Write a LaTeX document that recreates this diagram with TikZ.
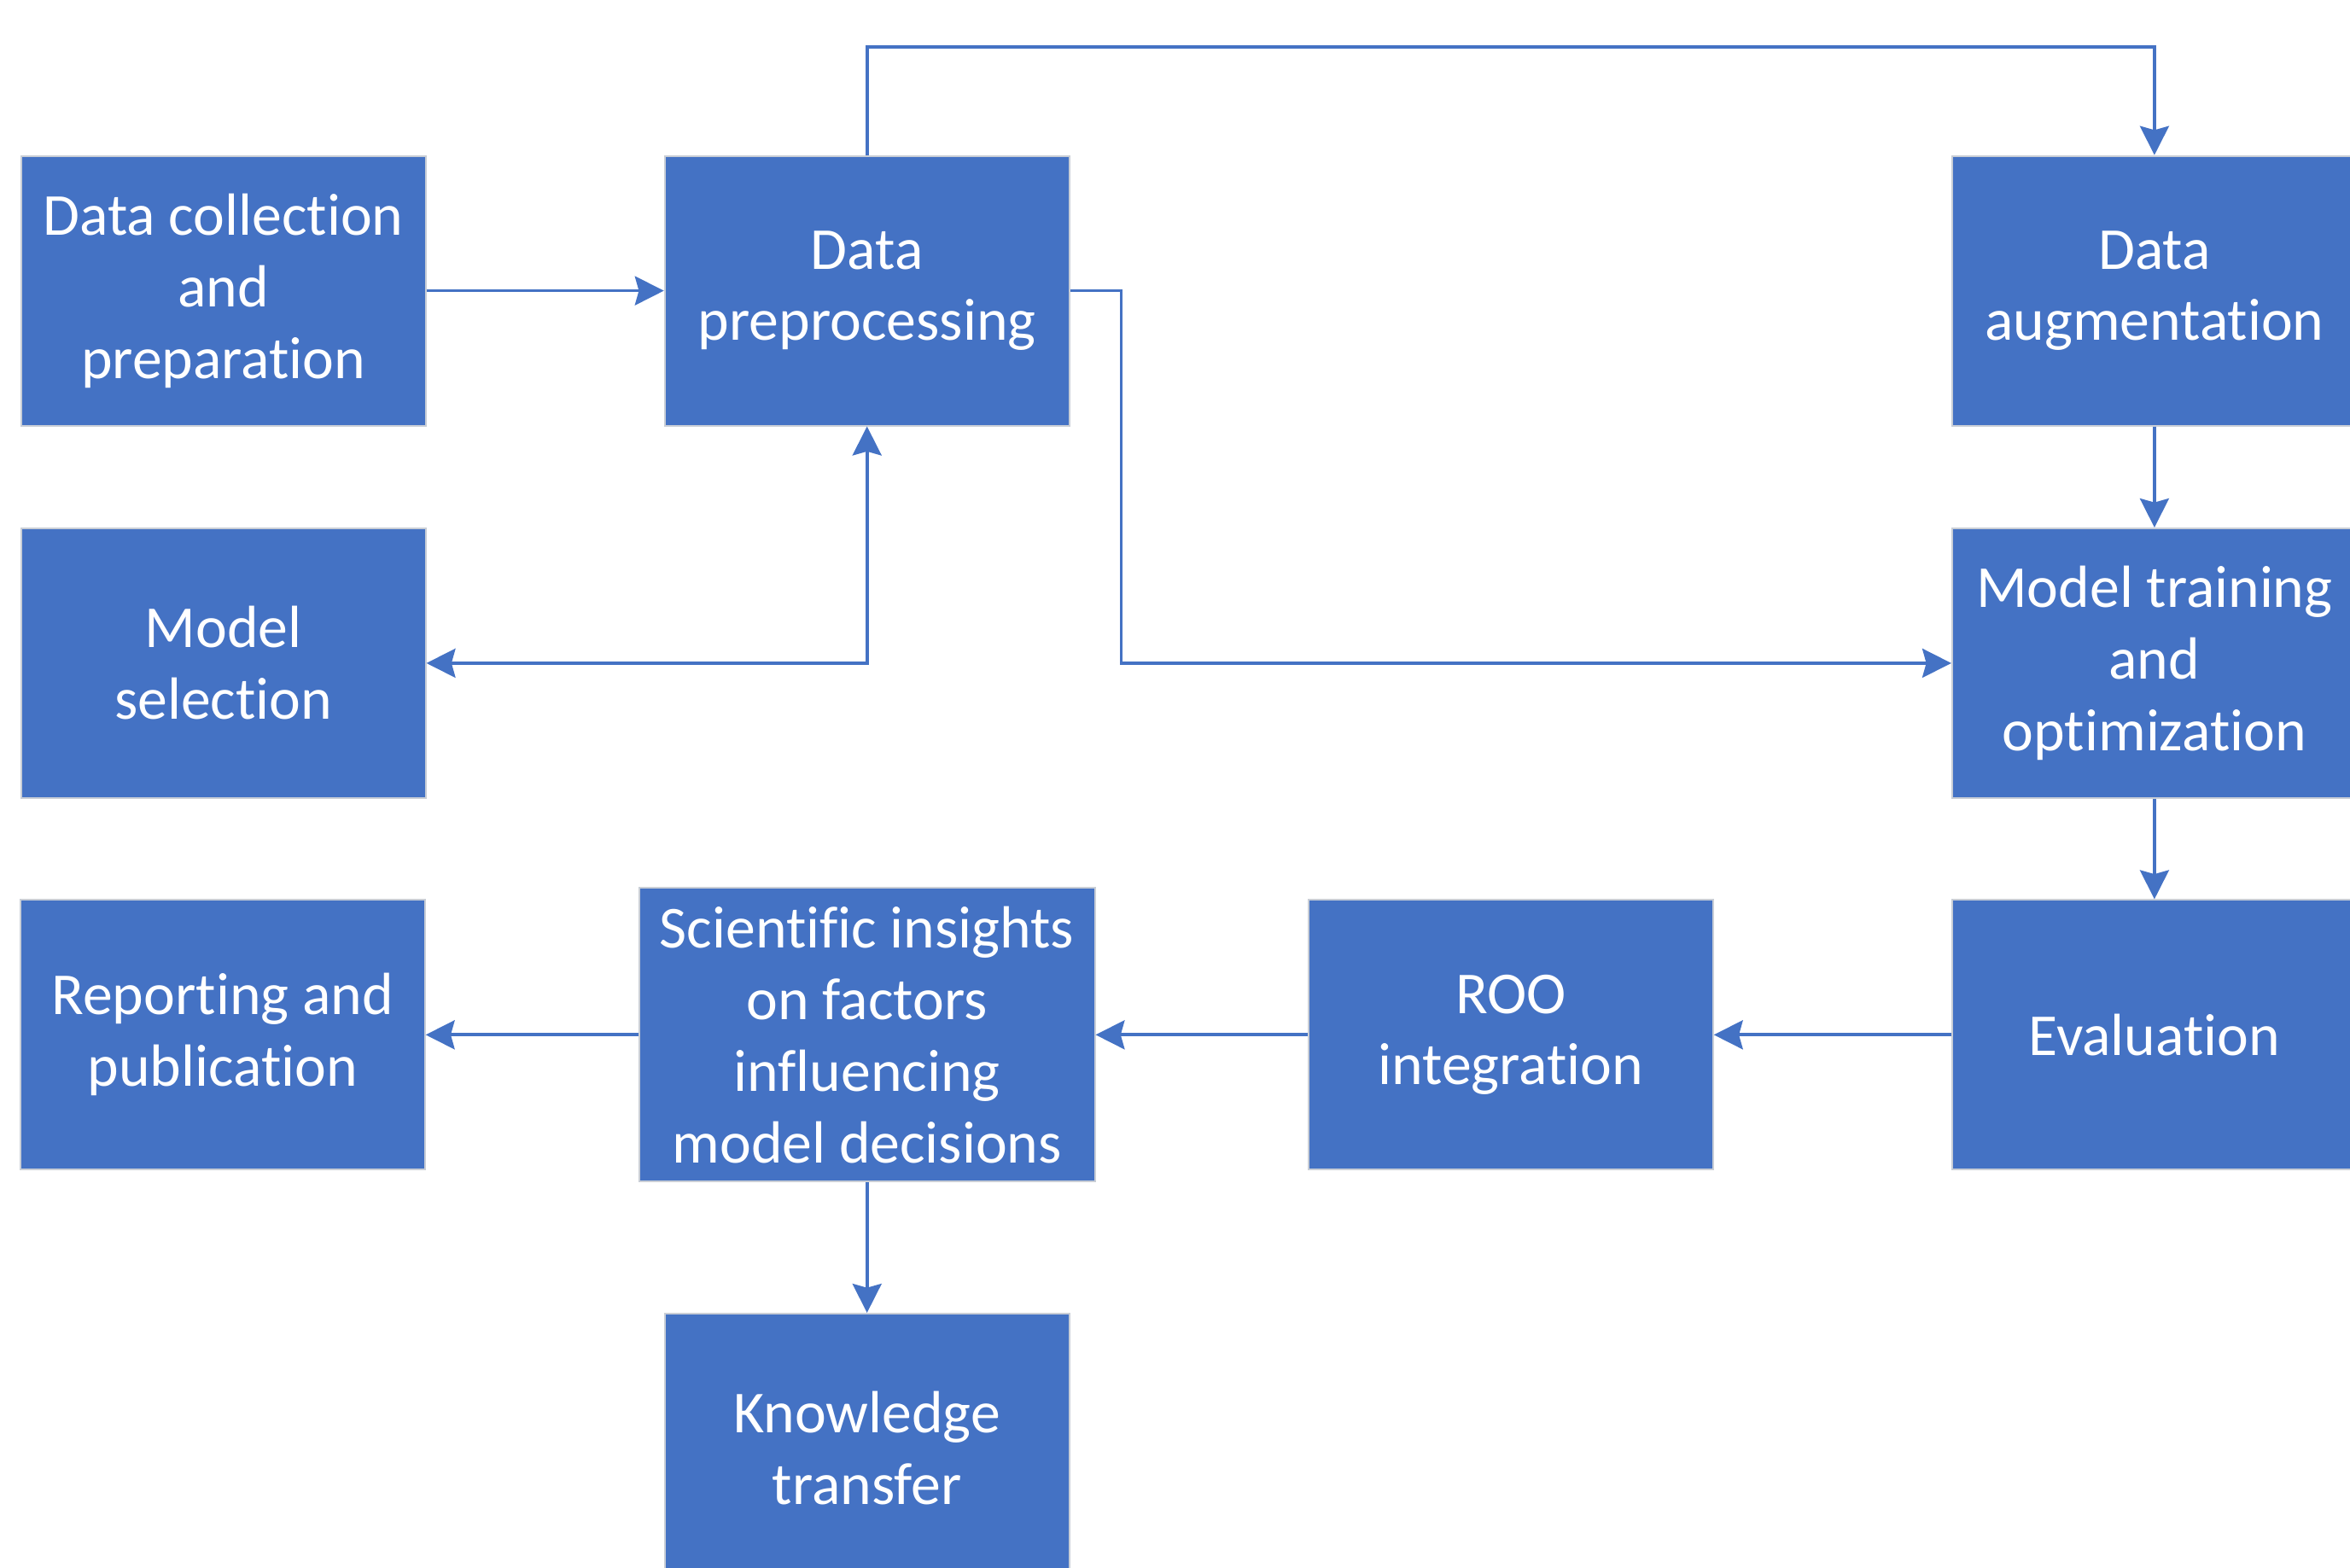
\documentclass[tikz,border=0pt]{standalone}
\usepackage{fontspec}
\setmainfont{Carlito}[Ligatures=NoCommon]
\usetikzlibrary{arrows.meta}
\definecolor{boxblue}{HTML}{4472C4}
\definecolor{boxedge}{HTML}{C9CED6}
\tikzstyle{process} = [rectangle, minimum width=5.4cm, minimum height=3.6cm, inner sep=2pt, text centered, align=center, draw=boxedge, line width=0.6pt, fill=boxblue, text=white, font=\fontsize{22.6}{27.2}\selectfont]
\tikzstyle{widebox} = [process, minimum width=6.08cm, minimum height=3.92cm]
\tikzstyle{arrow} = [line width=1.2pt, draw=boxblue, ->, >={Stealth[length=11pt, width=11pt, inset=1.5pt]}]

\begin{document}
\begin{tikzpicture}[node distance=8.59cm]
    \useasboundingbox (0,0) rectangle (31.36,20.92);

    % Nodes
    \node (collect) [process] at (2.98,17.04) {Data collection\\and\\preparation};
    \node (prep) [process, right of=collect] {Data\\preprocessing};
    \node (augment) [process, right of=prep, node distance=17.18cm] {Data\\augmentation};
    \node (train) [process, below of=augment, node distance=4.97cm] {Model training\\and\\optimization};
    \node (select) [process, below of=collect, node distance=4.97cm] {Model\\selection};
    \node (eval) [process, below of=train, node distance=4.96cm] {Evaluation};
    \node (roo) [process, left of=eval] {ROO\\integration};
    \node (insight) [widebox, left of=roo] {Scientific insights\\on factors\\influencing\\model decisions};
    \node (report) [process, left of=insight, node distance=8.6cm] {Reporting and\\publication};
    \node (transfer) [process, below of=insight, node distance=5.52cm] {Knowledge\\transfer};

    % Arrows
    \draw [arrow] (collect) -- (prep);
    \draw [arrow] (prep.north) -- ++(0,1.44) -| (augment.north);
    \draw [arrow] (prep.east) -- ++(0.68,0) |- (train.west);
    \draw [arrow, <->] (select.east) -| (prep.south);
    \draw [arrow] (augment) -- (train);
    \draw [arrow] (train) -- (eval);
    \draw [arrow] (eval) -- (roo);
    \draw [arrow] (roo) -- (insight);
    \draw [arrow] (insight) -- (report);
    \draw [arrow] (insight) -- (transfer);
\end{tikzpicture}
\end{document}
